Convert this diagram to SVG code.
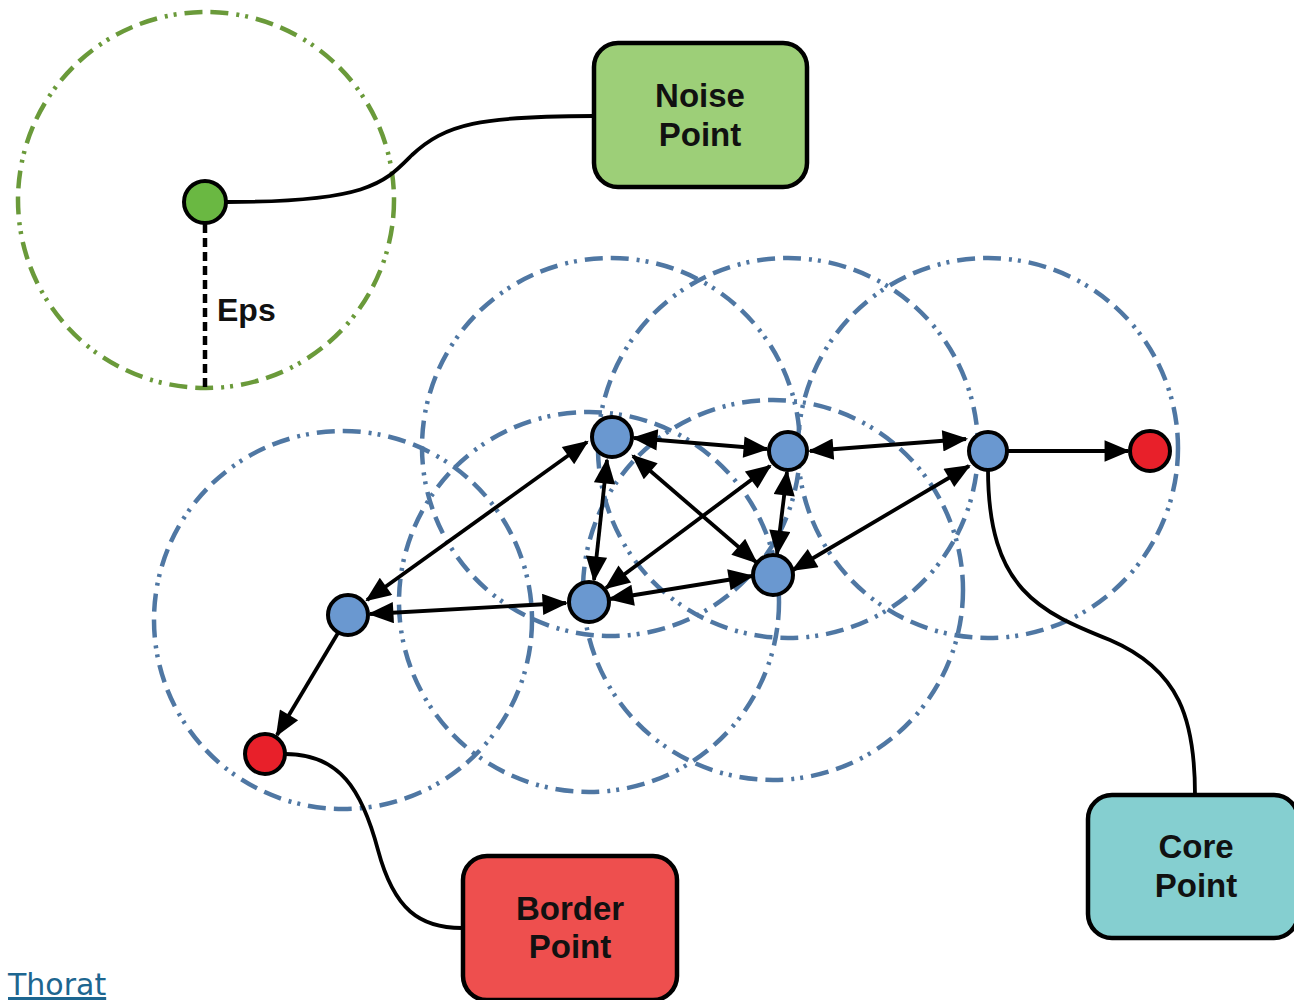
<svg xmlns="http://www.w3.org/2000/svg" width="1294" height="1000" viewBox="0 0 1294 1000">
  <style>
    .eps-g { fill: none; stroke: #6a9a3a; stroke-width: 4.5; stroke-dasharray: 18 8 18 8 3 6 3 8; }
    .eps-b { fill: none; stroke: #4f77a3; stroke-width: 4.5; stroke-dasharray: 18 8 18 8 3 6 3 8; }
    .link { fill: none; stroke: #000; stroke-width: 3.8; }
    .lead { fill: none; stroke: #000; stroke-width: 3.8; }
    .pt { stroke: #000; stroke-width: 4; }
    .core { fill: #6a98d0; }
    .border { fill: #e8202a; }
    .noise { fill: #6ab842; }
    .box { stroke: #000; stroke-width: 4.5; }
    .lbl { font-family: "Liberation Sans", Arial, sans-serif; font-weight: bold; font-size: 33px; fill: #111; text-anchor: middle; }
  </style>
  <defs>
    <marker id="ah" viewBox="0 0 12 10" refX="11" refY="5" markerWidth="8.2" markerHeight="5.6" orient="auto-start-reverse" markerUnits="strokeWidth">
      <path d="M0,0 L12,5 L0,10 Z" fill="#000"/>
    </marker>
  </defs>

  <rect width="1294" height="1000" fill="#fff"/>

  <!-- neighbourhood circles -->
  <g id="neighbourhoods">
    <circle class="eps-g" cx="206" cy="200" r="188"/>
    <circle class="eps-b" cx="343" cy="620" r="189"/>
    <circle class="eps-b" cx="611" cy="447" r="189"/>
    <circle class="eps-b" cx="788" cy="448" r="190"/>
    <circle class="eps-b" cx="988" cy="448" r="190"/>
    <circle class="eps-b" cx="589" cy="602" r="190"/>
    <circle class="eps-b" cx="773" cy="590" r="190"/>
  </g>

  <!-- connectors -->
  <g id="connectors">
    <line x1="205" y1="224" x2="205" y2="388" stroke="#000" stroke-width="4.5" stroke-dasharray="9 5"/>
    <path class="lead" d="M227,202 C370,202 385,182 412,155 C445,124 480,116 594,116"/>
    <path class="lead" d="M988,469 C988,590 1040,612 1110,640 C1180,670 1195,720 1195,795"/>
    <path class="lead" d="M285,754 C340,754 362,790 378,850 C394,910 420,928 462,928"/>

    <line class="link" x1="634" y1="438" x2="767" y2="449" marker-start="url(#ah)" marker-end="url(#ah)"/>
    <line class="link" x1="810" y1="451" x2="966" y2="439" marker-start="url(#ah)" marker-end="url(#ah)"/>
    <line class="link" x1="1007" y1="451" x2="1128" y2="451" marker-end="url(#ah)"/>
    <line class="link" x1="587" y1="442" x2="367" y2="600" marker-start="url(#ah)" marker-end="url(#ah)"/>
    <line class="link" x1="370" y1="614" x2="566" y2="603" marker-start="url(#ah)" marker-end="url(#ah)"/>
    <line class="link" x1="338" y1="633" x2="277" y2="735" marker-end="url(#ah)"/>
    <line class="link" x1="607" y1="460" x2="594" y2="580" marker-start="url(#ah)" marker-end="url(#ah)"/>
    <line class="link" x1="633" y1="456" x2="756" y2="562" marker-start="url(#ah)" marker-end="url(#ah)"/>
    <line class="link" x1="770" y1="466" x2="606" y2="588" marker-start="url(#ah)" marker-end="url(#ah)"/>
    <line class="link" x1="787" y1="472" x2="777" y2="554" marker-start="url(#ah)" marker-end="url(#ah)"/>
    <line class="link" x1="610" y1="599" x2="752" y2="576" marker-start="url(#ah)" marker-end="url(#ah)"/>
    <line class="link" x1="969" y1="466" x2="793" y2="570" marker-start="url(#ah)" marker-end="url(#ah)"/>
  </g>

  <!-- points -->
  <g id="noise-pt"><circle class="pt noise" cx="205" cy="202" r="21"/></g>
  <g id="core-a"><circle class="pt core" cx="612" cy="437" r="20"/></g>
  <g id="core-b"><circle class="pt core" cx="788" cy="451" r="19"/></g>
  <g id="core-c"><circle class="pt core" cx="988" cy="451" r="19"/></g>
  <g id="core-d"><circle class="pt core" cx="348" cy="615" r="20"/></g>
  <g id="core-e"><circle class="pt core" cx="589" cy="602" r="20"/></g>
  <g id="core-f"><circle class="pt core" cx="773" cy="575" r="20"/></g>
  <g id="border-r"><circle class="pt border" cx="1150" cy="451" r="20"/></g>
  <g id="border-l"><circle class="pt border" cx="265" cy="754" r="20"/></g>

  <!-- labels -->
  <g id="eps-label">
    <text x="217" y="321" font-family="Liberation Sans, Arial, sans-serif" font-weight="bold" font-size="32" fill="#111">Eps</text>
  </g>
  <g id="noise-box">
    <rect class="box" x="594" y="43" width="213" height="144" rx="24" fill="#9dcf78"/>
    <text class="lbl" x="700" y="107">Noise</text>
    <text class="lbl" x="700" y="146">Point</text>
  </g>
  <g id="core-box">
    <rect class="box" x="1088" y="795" width="210" height="143" rx="24" fill="#85cfd0"/>
    <text class="lbl" x="1196" y="858">Core</text>
    <text class="lbl" x="1196" y="897">Point</text>
  </g>
  <g id="border-box">
    <rect class="box" x="463" y="856" width="214" height="144" rx="24" fill="#ee4f4e"/>
    <text class="lbl" x="570" y="920">Border</text>
    <text class="lbl" x="570" y="958">Point</text>
  </g>
  <g id="credit">
    <text x="8" y="995" font-family="DejaVu Sans, sans-serif" font-size="30" fill="#1d6690" text-decoration="underline">Thorat</text>
  </g>
</svg>
